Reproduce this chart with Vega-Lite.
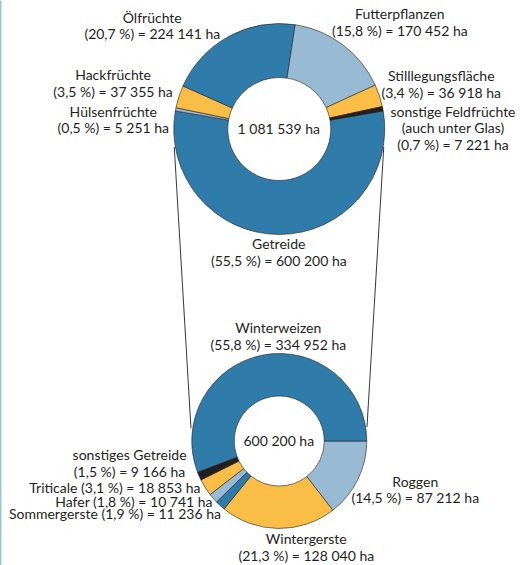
{
  "$schema": "https://vega.github.io/schema/vega-lite/v6.json",
  "autosize": {"type": "fit", "contains": "padding"},
  "width": 522,
  "height": 565,
  "padding": 0,
  "background": "white",
  "config": {
    "view": {"stroke": null},
    "text": {"font": "Lato", "fontSize": 14, "color": "#231f20", "baseline": "alphabetic", "align": "center", "lineBreak": "\n", "lineHeight": 16.5}
  },
  "data": {
    "values": [
      {"Ebene": "Ackerland", "nr": 1, "Kultur": "Getreide", "ha": 600200, "label": "Getreide\n(55,5 %) = 600 200 ha"},
      {"Ebene": "Ackerland", "nr": 2, "Kultur": "Hülsenfrüchte", "ha": 5251, "label": "Hülsenfrüchte\n(0,5 %) = 5 251 ha"},
      {"Ebene": "Ackerland", "nr": 3, "Kultur": "Hackfrüchte", "ha": 37355, "label": "Hackfrüchte\n(3,5 %) = 37 355 ha"},
      {"Ebene": "Ackerland", "nr": 4, "Kultur": "Ölfrüchte", "ha": 224141, "label": "Ölfrüchte\n(20,7 %) = 224 141 ha"},
      {"Ebene": "Ackerland", "nr": 5, "Kultur": "Futterpflanzen", "ha": 170452, "label": "Futterpflanzen\n(15,8 %) = 170 452 ha"},
      {"Ebene": "Ackerland", "nr": 6, "Kultur": "Stilllegungsfläche", "ha": 36918, "label": "Stilllegungsfläche\n(3,4 %) = 36 918 ha"},
      {"Ebene": "Ackerland", "nr": 7, "Kultur": "sonstige Feldfrüchte (auch unter Glas)", "ha": 7221, "label": "sonstige Feldfrüchte\n(auch unter Glas)\n(0,7 %) = 7 221 ha"},
      {"Ebene": "Getreide", "nr": 1, "Kultur": "Roggen", "ha": 87212, "label": "Roggen\n(14,5 %) = 87 212 ha"},
      {"Ebene": "Getreide", "nr": 2, "Kultur": "Wintergerste", "ha": 128040, "label": "Wintergerste\n(21,3 %) = 128 040 ha"},
      {"Ebene": "Getreide", "nr": 3, "Kultur": "Sommergerste", "ha": 11236, "label": "Sommergerste (1,9 %) = 11 236 ha"},
      {"Ebene": "Getreide", "nr": 4, "Kultur": "Hafer", "ha": 10741, "label": "Hafer (1,8 %) = 10 741 ha"},
      {"Ebene": "Getreide", "nr": 5, "Kultur": "Triticale", "ha": 18853, "label": "Triticale (3,1 %) = 18 853 ha"},
      {"Ebene": "Getreide", "nr": 6, "Kultur": "sonstiges Getreide", "ha": 9166, "label": "sonstiges Getreide\n(1,5 %) = 9 166 ha"},
      {"Ebene": "Getreide", "nr": 7, "Kultur": "Winterweizen", "ha": 334952, "label": "Winterweizen\n(55,8 %) = 334 952 ha"}
    ]
  },
  "encoding": {
    "x": {"datum": "Anbau", "type": "nominal", "scale": {"type": "point", "align": 0.535}, "axis": null},
    "y": {"field": "Ebene", "type": "nominal", "sort": null,
      "scale": {"type": "point", "domain": ["Ackerland", "Getreide"], "padding": 0.40545, "align": 0.5099},
      "axis": {"labels": false, "ticks": false, "title": null, "grid": false, "domainColor": "#9cc4dd", "domainWidth": 2}}
  },
  "resolve": {"scale": {"theta": "independent"}},
  "layer": [
    {
      "data": {"values": [{"Linie": "links"}]},
      "mark": {"type": "rule", "color": "#231f20", "strokeWidth": 0.9, "xOffset": -105, "yOffset": 18, "x2Offset": -88.3, "y2Offset": -12.7},
      "encoding": {
        "y": {"datum": "Ackerland", "type": "nominal"},
        "y2": {"datum": "Getreide"},
        "x2": {"datum": "Anbau"}
      }
    },
    {
      "data": {"values": [{"Linie": "rechts"}]},
      "mark": {"type": "rule", "color": "#231f20", "strokeWidth": 0.9, "xOffset": 104.5, "yOffset": 18, "x2Offset": 87.7, "y2Offset": -14},
      "encoding": {
        "y": {"datum": "Ackerland", "type": "nominal"},
        "y2": {"datum": "Getreide"},
        "x2": {"datum": "Anbau"}
      }
    },
    {
      "transform": [{"filter": "datum.Ebene === 'Ackerland'"}],
      "mark": {"type": "arc", "outerRadius": 105.5, "innerRadius": 51.5, "stroke": "#231f20", "strokeWidth": 0.6},
      "encoding": {
        "theta": {"field": "ha", "type": "quantitative", "stack": true, "scale": {"range": [1.39823, 7.68142]}},
        "order": {"field": "nr", "type": "quantitative"},
        "color": {"field": "Kultur", "type": "nominal", "legend": null,
          "scale": {"domain": ["Getreide", "Hülsenfrüchte", "Hackfrüchte", "Ölfrüchte", "Futterpflanzen", "Stilllegungsfläche", "sonstige Feldfrüchte (auch unter Glas)", "Roggen", "Wintergerste", "Sommergerste", "Hafer", "Triticale", "sonstiges Getreide", "Winterweizen"],
            "range": ["#2f7baa", "#98bad3", "#fabd46", "#2f7baa", "#98bad3", "#fabd46", "#231f20", "#98bad3", "#fabd46", "#2f7baa", "#98bad3", "#fabd46", "#231f20", "#2f7baa"]}}
      }
    },
    {
      "transform": [{"filter": "datum.Ebene === 'Getreide'"}],
      "mark": {"type": "arc", "outerRadius": 87.5, "innerRadius": 45, "stroke": "#231f20", "strokeWidth": 0.6},
      "encoding": {
        "theta": {"field": "ha", "type": "quantitative", "stack": true, "scale": {"range": [1.570796, 7.853982]}},
        "order": {"field": "nr", "type": "quantitative"},
        "color": {"field": "Kultur", "type": "nominal", "legend": null,
          "scale": {"domain": ["Getreide", "Hülsenfrüchte", "Hackfrüchte", "Ölfrüchte", "Futterpflanzen", "Stilllegungsfläche", "sonstige Feldfrüchte (auch unter Glas)", "Roggen", "Wintergerste", "Sommergerste", "Hafer", "Triticale", "sonstiges Getreide", "Winterweizen"],
            "range": ["#2f7baa", "#98bad3", "#fabd46", "#2f7baa", "#98bad3", "#fabd46", "#231f20", "#98bad3", "#fabd46", "#2f7baa", "#98bad3", "#fabd46", "#231f20", "#2f7baa"]}}
      }
    },
    {
      "data": {"values": [{"Ebene": "Ackerland", "summe": "1 081 539 ha"}, {"Ebene": "Getreide", "summe": "600 200 ha"}]},
      "mark": {"type": "text", "dx": -0.5, "dy": 4.5},
      "encoding": {"text": {"field": "summe"}}
    },
    {"transform": [{"filter": "datum.Kultur === 'Getreide'"}], "mark": {"type": "text", "dx": -0.5, "dy": 120.3}, "encoding": {"text": {"field": "label"}}},
    {"transform": [{"filter": "datum.Kultur === 'Hülsenfrüchte'"}], "mark": {"type": "text", "dx": -166, "dy": -12.3}, "encoding": {"text": {"field": "label"}}},
    {"transform": [{"filter": "datum.Kultur === 'Hackfrüchte'"}], "mark": {"type": "text", "dx": -166.2, "dy": -49}, "encoding": {"text": {"field": "label"}}},
    {"transform": [{"filter": "datum.Kultur === 'Ölfrüchte'"}], "mark": {"type": "text", "dx": -127, "dy": -106.3}, "encoding": {"text": {"field": "label"}}},
    {"transform": [{"filter": "datum.Kultur === 'Futterpflanzen'"}], "mark": {"type": "text", "dx": 120.5, "dy": -110}, "encoding": {"text": {"field": "label"}}},
    {"transform": [{"filter": "datum.Kultur === 'Stilllegungsfläche'"}], "mark": {"type": "text", "dx": 162, "dy": -48}, "encoding": {"text": {"field": "label"}}},
    {"transform": [{"filter": "datum.Kultur === 'sonstige Feldfrüchte (auch unter Glas)'"}], "mark": {"type": "text", "dx": 173.7, "dy": -12.3}, "encoding": {"text": {"field": "label"}}},
    {"transform": [{"filter": "datum.Kultur === 'Roggen'"}], "mark": {"type": "text", "dx": 136, "dy": 45.7}, "encoding": {"text": {"field": "label"}}},
    {"transform": [{"filter": "datum.Kultur === 'Wintergerste'"}], "mark": {"type": "text", "dx": 27, "dy": 103}, "encoding": {"text": {"field": "label"}}},
    {"transform": [{"filter": "datum.Kultur === 'Sommergerste'"}], "mark": {"type": "text", "align": "right", "dx": -58.3, "dy": 77.8}, "encoding": {"text": {"field": "label"}}},
    {"transform": [{"filter": "datum.Kultur === 'Hafer'"}], "mark": {"type": "text", "align": "right", "dx": -66.7, "dy": 66.3}, "encoding": {"text": {"field": "label"}}},
    {"transform": [{"filter": "datum.Kultur === 'Triticale'"}], "mark": {"type": "text", "align": "right", "dx": -78.7, "dy": 52}, "encoding": {"text": {"field": "label"}}},
    {"transform": [{"filter": "datum.Kultur === 'sonstiges Getreide'"}], "mark": {"type": "text", "dx": -149.7, "dy": 19}, "encoding": {"text": {"field": "label"}}},
    {"transform": [{"filter": "datum.Kultur === 'Winterweizen'"}], "mark": {"type": "text", "dx": -1, "dy": -107.7}, "encoding": {"text": {"field": "label"}}}
  ]
}
